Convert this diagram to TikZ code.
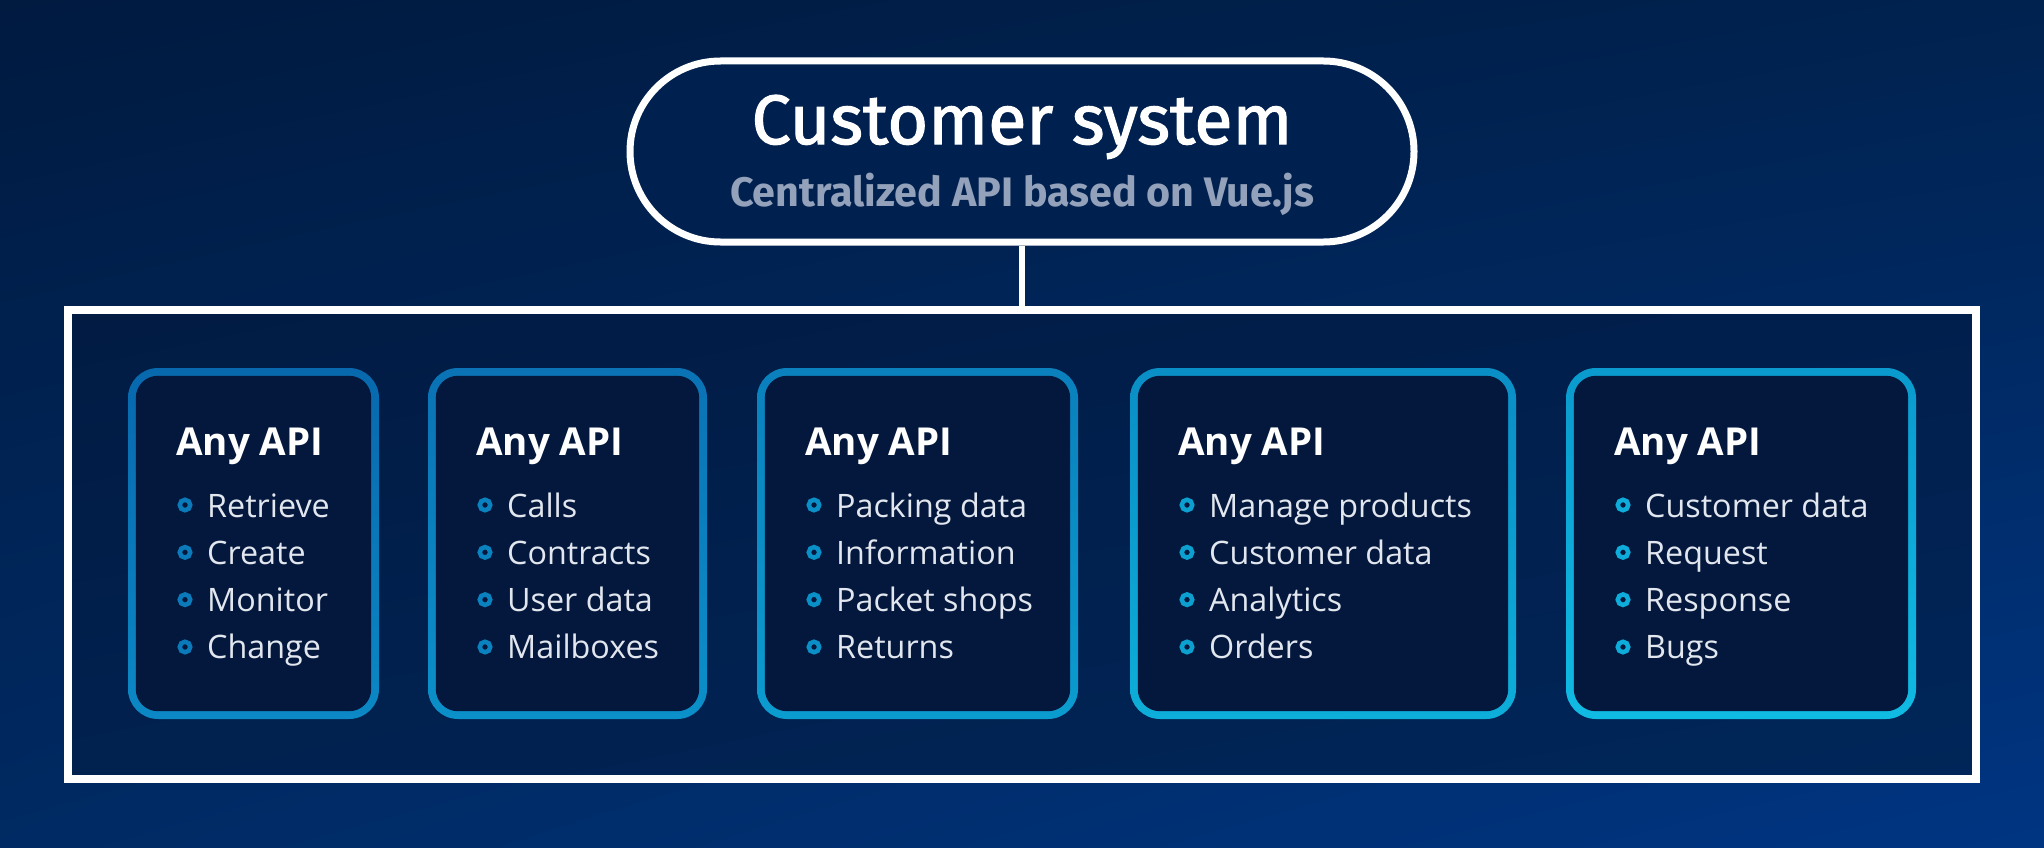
\documentclass[tikz,border=0pt]{standalone}
\usepackage{fontspec}
\usetikzlibrary{shadings}
\newfontfamily\fira{Fira Sans}
\newfontfamily\firamed[FakeBold=1.6]{Fira Sans}
\newfontfamily\opensans{Open Sans}
\definecolor{bgTL}{HTML}{001A40}
\definecolor{bgTR}{HTML}{00224F}
\definecolor{bgBL}{HTML}{002A63}
\definecolor{bgBR}{HTML}{003582}
\definecolor{hubTL}{HTML}{011B43}
\definecolor{hubTR}{HTML}{011F4D}
\definecolor{hubBL}{HTML}{01214F}
\definecolor{hubBR}{HTML}{002659}
\definecolor{pillfill}{HTML}{00214F}
\definecolor{boxfill}{HTML}{04183D}
\definecolor{itemc}{HTML}{E2E7EF}
\definecolor{subc}{HTML}{93A1BA}
\definecolor{bAt}{HTML}{0868AD}\definecolor{bAb}{HTML}{0B88C5}
\definecolor{bBt}{HTML}{0A72B5}\definecolor{bBb}{HTML}{0B90C9}
\definecolor{bCt}{HTML}{0A80BD}\definecolor{bCb}{HTML}{0B9CCF}
\definecolor{bDt}{HTML}{0A8EC6}\definecolor{bDb}{HTML}{0DAED9}
\definecolor{bEt}{HTML}{0A9ACE}\definecolor{bEb}{HTML}{10BBE3}
\tikzset{
  pill/.style={draw=white, line width=7, fill=pillfill, rounded corners=90.5,
    minimum width=784, minimum height=181, inner sep=0},
  hub/.style={draw=white, line width=8, upper left=hubTL, upper right=hubTR,
    lower left=hubBL, lower right=hubBR, minimum width=1908, minimum height=469, inner sep=0},
  conn/.style={draw=white, line width=6},
  boxouter/.style={rounded corners=30, minimum height=351, inner sep=0, draw=none},
  boxin/.style={fill=boxfill, rounded corners=22},
  titletext/.style={anchor=base, inner sep=0, text=white, font=\firamed\fontsize{70}{80}\selectfont},
  subtext/.style={anchor=base, inner sep=0, text=subc, font=\fira\bfseries\fontsize{41.2}{50}\selectfont},
  heading/.style={anchor=base west, inner sep=0, text=white, font=\opensans\bfseries\fontsize{38.5}{46}\selectfont},
  item/.style={anchor=base west, inner sep=0, text=itemc, font=\opensans\fontsize{32.3}{40}\selectfont},
  bullet/.style={circle, line width=4.5, minimum size=10.5, inner sep=0}
}
\newcommand{\apibox}[6]{%
  \node[boxouter, top color=#4, bottom color=#5, minimum width=#3] (#1) at ({#2+#3/2},543.5) {};
  \fill[boxin] ([shift={(8,8)}]#1.north west) rectangle ([shift={(-8,-8)}]#1.south east);
  \node[heading] (#1-h) at ({#2+48},455) {Any API};
  \foreach \t [count=\i] in {#6} {
    \node[bullet, draw=#4!45!#5] (#1-d\i) at ({#2+57},{505+47.33*(\i-1)}) {};
    \node[item] (#1-i\i) at ({#2+79},{517+47.33*(\i-1)}) {\t};
  }%
}
\begin{document}
\begin{tikzpicture}[x=1pt,y=-1pt]
  \useasboundingbox (0,0) rectangle (2044,848);
  \shade[upper left=bgTL, upper right=bgTR, lower left=bgBL, lower right=bgBR] (0,0) rectangle (2044,848);
  \node[hub] (hub) at (1022,544.5) {};
  \node[pill] (sys) at (1022,151.5) {};
  \draw[conn] (sys.south) -- (hub.north);
  \node[titletext] (title) at (1022,144) {Customer system};
  \node[subtext] (subtitle) at (1022,206) {Centralized API based on Vue.js};
  \apibox{b1}{128}{251}{bAt}{bAb}{Retrieve,Create,Monitor,Change}
  \apibox{b2}{428}{279}{bBt}{bBb}{Calls,Contracts,User data,Mailboxes}
  \apibox{b3}{757}{321}{bCt}{bCb}{Packing data,Information,Packet shops,Returns}
  \apibox{b4}{1130}{386}{bDt}{bDb}{Manage products,Customer data,Analytics,Orders}
  \apibox{b5}{1566}{350}{bEt}{bEb}{Customer data,Request,Response,Bugs}
\end{tikzpicture}
\end{document}
